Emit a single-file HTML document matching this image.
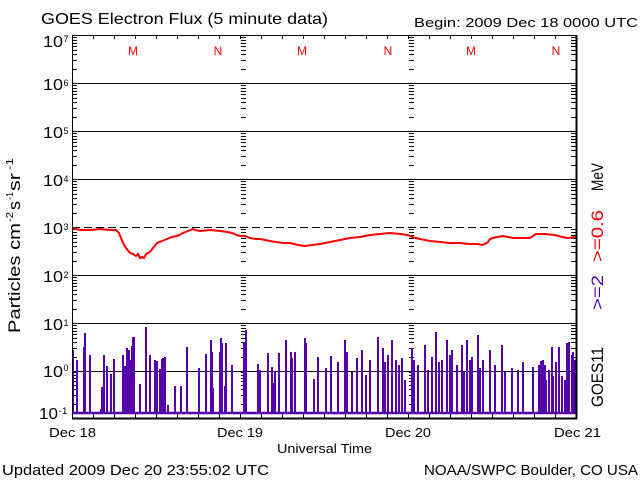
<!DOCTYPE html>
<html><head><meta charset="utf-8"><style>
html,body{margin:0;padding:0;background:#fff;}
svg{display:block;}
text{font-family:"Liberation Sans",sans-serif;}
</style></head><body>
<svg width="640" height="480" viewBox="0 0 640 480" xmlns="http://www.w3.org/2000/svg">
<defs>
<path id="tk" d="M0 404.5h5M0 395.5h5M0 389.5h5M0 385.5h5M0 381.5h5M0 378.5h5M0 375.5h5M0 372.5h5
M0 357.5h5M0 348.5h5M0 342.5h5M0 338.5h5M0 334.5h5M0 331.5h5M0 328.5h5M0 325.5h5
M0 309.5h5M0 300.5h5M0 294.5h5M0 290.5h5M0 286.5h5M0 283.5h5M0 280.5h5M0 277.5h5
M0 261.5h5M0 252.5h5M0 246.5h5M0 242.5h5M0 238.5h5M0 235.5h5M0 232.5h5M0 229.5h5
M0 213.5h5M0 204.5h5M0 198.5h5M0 194.5h5M0 190.5h5M0 187.5h5M0 184.5h5M0 181.5h5
M0 165.5h5M0 156.5h5M0 150.5h5M0 146.5h5M0 142.5h5M0 139.5h5M0 136.5h5M0 133.5h5
M0 117.5h5M0 108.5h5M0 102.5h5M0 98.5h5M0 94.5h5M0 91.5h5M0 88.5h5M0 85.5h5
M0 69.5h5M0 60.5h5M0 54.5h5M0 50.5h5M0 46.5h5M0 43.5h5M0 40.5h5M0 37.5h5" stroke="#000" stroke-width="1" fill="none"/>
</defs>

<!-- title texts -->
<text x="41" y="24" font-size="16" textLength="287" lengthAdjust="spacingAndGlyphs" fill="#000">GOES Electron Flux (5 minute data)</text>
<text x="414" y="27" font-size="13" textLength="224" lengthAdjust="spacingAndGlyphs" fill="#000">Begin: 2009 Dec 18 0000 UTC</text>

<!-- grid lines -->
<g shape-rendering="crispEdges" stroke="#000" stroke-width="1" fill="none">
<path d="M72 83.5H576M72 131.5H576M72 179.5H576M72 275.5H576M72 323.5H576M72 371.5H576"/>
<path d="M72 227.5H576" stroke-dasharray="8 4"/>
</g>

<!-- minor ticks -->
<g shape-rendering="crispEdges">
<use href="#tk" x="72"/>
<use href="#tk" x="241"/>
<use href="#tk" x="409"/>
<use href="#tk" x="571"/>
</g>

<!-- hour ticks top and bottom -->
<g shape-rendering="crispEdges" stroke="#000" stroke-width="1" fill="none">
<path d="M93.5 35v4M114.5 35v4M135.5 35v4M156.5 35v4M177.5 35v4M198.5 35v4M219.5 35v4M240.5 35v4M261.5 35v4M282.5 35v4M303.5 35v4M324.5 35v4M345.5 35v4M366.5 35v4M387.5 35v4M408.5 35v4M429.5 35v4M450.5 35v4M471.5 35v4M492.5 35v4M513.5 35v4M534.5 35v4M555.5 35v4"/>
<path d="M93.5 418v-4M114.5 418v-4M135.5 418v-4M156.5 418v-4M177.5 418v-4M198.5 418v-4M219.5 418v-4M240.5 418v-4M261.5 418v-4M282.5 418v-4M303.5 418v-4M324.5 418v-4M345.5 418v-4M366.5 418v-4M387.5 418v-4M408.5 418v-4M429.5 418v-4M450.5 418v-4M471.5 418v-4M492.5 418v-4M513.5 418v-4M534.5 418v-4M555.5 418v-4"/>
</g>

<!-- M / N markers -->
<g fill="#ff0000" font-size="12" text-anchor="middle">
<text x="133" y="55">M</text><text x="218" y="55">N</text>
<text x="302" y="55">M</text><text x="388" y="55">N</text>
<text x="471" y="55">M</text><text x="556" y="55">N</text>
</g>

<!-- purple data -->
<g stroke="#5500aa" fill="none">
<path d="M72 413H576" stroke-width="2.5"/>
<path stroke-width="2" d="M73 413V350M77 413V360M84 413V347M85 413V333M90 413V355M101 413V409M102 413V387M104 413V355M107 413V366M111 413V374M114 413V359M123 413V355M125 413V366M127 413V348M128 413V350M129 413V350M130 413V392M131 413V360M132 413V346M133 413V337M134 413V337M140 413V384M146 413V327M150 413V355M155 413V360M157 413V361M160 413V369M162 413V359M163 413V358M165 413V357M168 413V405M175 413V386M181 413V386M187 413V347M199 413V368M206 413V354M211 413V340M212 413V352M213 413V388M220 413V352M221 413V338M222 413V343M225 413V386M226 413V343M232 413V365M244 413V342M246 413V330M258 413V364M260 413V370M268 413V353M272 413V367M273 413V383M275 413V371M279 413V353M286 413V340M291 413V352M292 413V358M295 413V352M305 413V338M306 413V343M314 413V379M318 413V357
M326 413V368M331 413V356M338 413V362M345 413V340M347 413V352M352 413V372M357 413V358M362 413V350M366 413V375M370 413V360M378 413V337M383 413V348M385 413V362M388 413V355M392 413V340M396 413V360M399 413V365M402 413V358M405 413V380
M412 413V348M414 413V360M418 413V365M425 413V345M428 413V370M432 413V357M436 413V332M439 413V362M442 413V360M447 413V340M450 413V355M452 413V350M457 413V365M462 413V345M464 413V372M467 413V340M470 413V360M472 413V357M478 413V335M480 413V368M483 413V360M490 413V350M495 413V365M502 413V345M505 413V372M512 413V368M518 413V370M523 413V362
M533 413V367M539 413V365M541 413V361M543 413V360M545 413V365M546 413V380M549 413V370M552 413V347M553 413V376M556 413V362M559 413V347M562 413V376M565 413V380M567 413V343M569 413V342M572 413V355M573 413V352M575 413V360"/>
</g>

<!-- red data -->
<polyline fill="none" stroke="#ff0000" stroke-width="2" points="72,228 76,229 80,230 90,230 100,229 110,230 116,230 119,233 121,238 123,243 126,248 130,253 133,254 136,256 138,254 140,258 142,257 144,258 146,254 148,253 150,252 153,248 157,243 162,241 167,239 172,237 177,236 183,233 188,231 193,229 195,230 200,231 210,230 220,231 227,232 232,233 237,235 240,236 245,236 250,238 256,239 260,239 265,240 270,241 276,242 283,243 290,243 298,245 305,246 312,245 320,244 330,242 340,240 350,238 360,237 370,235 380,234 390,233 400,234 408,235 412,237 420,239 430,241 440,242 450,243 460,243 470,244 478,244 482,245 485,244 488,242 490,239 493,238 497,237 503,236 508,237 513,238 520,238 530,238 533,236 536,234 545,234 555,235 562,237 568,238 576,237"/>

<!-- frame -->
<g shape-rendering="crispEdges" stroke="#000" fill="none">
<path d="M72.5 35V418" stroke-width="1"/>
<path d="M72 35.5H577" stroke-width="1"/>
<path d="M576.5 35V419" stroke-width="2"/>
<path d="M72 418.5H577" stroke-width="2"/>
</g>

<!-- y labels -->
<g fill="#000">
<text x="43" y="47" font-size="16" textLength="20" lengthAdjust="spacingAndGlyphs">10</text><text x="63.5" y="42" font-size="9">7</text>
<text x="43" y="90" font-size="16" textLength="20" lengthAdjust="spacingAndGlyphs">10</text><text x="63.5" y="86" font-size="9">6</text>
<text x="43" y="138" font-size="16" textLength="20" lengthAdjust="spacingAndGlyphs">10</text><text x="63.5" y="134" font-size="9">5</text>
<text x="43" y="186" font-size="16" textLength="20" lengthAdjust="spacingAndGlyphs">10</text><text x="63.5" y="182" font-size="9">4</text>
<text x="43" y="234" font-size="16" textLength="20" lengthAdjust="spacingAndGlyphs">10</text><text x="63.5" y="230" font-size="9">3</text>
<text x="43" y="282" font-size="16" textLength="20" lengthAdjust="spacingAndGlyphs">10</text><text x="63.5" y="278" font-size="9">2</text>
<text x="43" y="330" font-size="16" textLength="20" lengthAdjust="spacingAndGlyphs">10</text><text x="63.5" y="326" font-size="9">1</text>
<text x="43" y="377" font-size="16" textLength="20" lengthAdjust="spacingAndGlyphs">10</text><text x="63.5" y="371" font-size="9">0</text>
<text x="39" y="419" font-size="16" textLength="19" lengthAdjust="spacingAndGlyphs">10</text><text x="58.5" y="414" font-size="9" textLength="9" lengthAdjust="spacingAndGlyphs">-1</text>
</g>

<!-- y title rotated -->
<g fill="#000">
<text transform="translate(20,333) rotate(-90)" font-size="17" textLength="110" lengthAdjust="spacingAndGlyphs">Particles cm</text>
<text transform="translate(13,222) rotate(-90)" font-size="10" textLength="10" lengthAdjust="spacingAndGlyphs">-2</text>
<text transform="translate(20,210) rotate(-90)" font-size="17" textLength="9" lengthAdjust="spacingAndGlyphs">s</text>
<text transform="translate(13,200) rotate(-90)" font-size="10" textLength="8" lengthAdjust="spacingAndGlyphs">-1</text>
<text transform="translate(20,191) rotate(-90)" font-size="17" textLength="18" lengthAdjust="spacingAndGlyphs">sr</text>
<text transform="translate(13,170) rotate(-90)" font-size="10" textLength="12" lengthAdjust="spacingAndGlyphs">-1</text>
</g>

<!-- right labels rotated -->
<text transform="translate(603,407) rotate(-90)" font-size="17" textLength="60" lengthAdjust="spacingAndGlyphs" fill="#000">GOES11</text>
<text transform="translate(603,310) rotate(-90)" font-size="17" textLength="35" lengthAdjust="spacingAndGlyphs" fill="#5500aa">&gt;=2</text>
<text transform="translate(603,262) rotate(-90)" font-size="17" textLength="52" lengthAdjust="spacingAndGlyphs" fill="#ff0000">&gt;=0.6</text>
<text transform="translate(603,191) rotate(-90)" font-size="17" textLength="28" lengthAdjust="spacingAndGlyphs" fill="#000">MeV</text>

<!-- x labels -->
<g fill="#000" font-size="13">
<text x="49" y="437" textLength="47" lengthAdjust="spacingAndGlyphs">Dec 18</text>
<text x="217" y="437" textLength="46" lengthAdjust="spacingAndGlyphs">Dec 19</text>
<text x="385" y="437" textLength="46" lengthAdjust="spacingAndGlyphs">Dec 20</text>
<text x="554" y="437" textLength="47" lengthAdjust="spacingAndGlyphs">Dec 21</text>
<text x="277" y="453" textLength="95" lengthAdjust="spacingAndGlyphs">Universal Time</text>
</g>

<!-- footer -->
<text x="2" y="475" font-size="15" textLength="267" lengthAdjust="spacingAndGlyphs" fill="#000">Updated 2009 Dec 20 23:55:02 UTC</text>
<text x="424" y="475" font-size="15" textLength="214" lengthAdjust="spacingAndGlyphs" fill="#000">NOAA/SWPC Boulder, CO USA</text>
</svg>
</body></html>
